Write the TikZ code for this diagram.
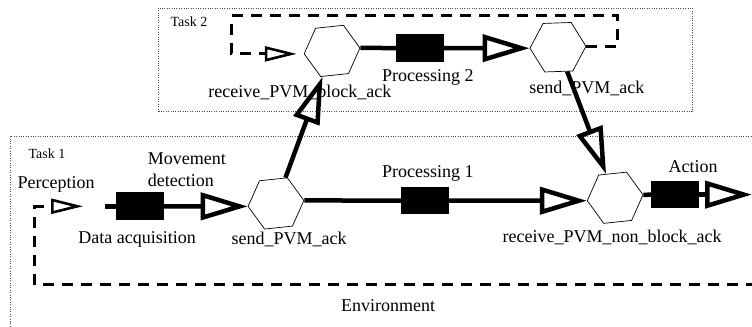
\documentclass[tikz,border=0pt]{standalone}
\usepackage{fontspec}
\setmainfont{Liberation Serif}
\usetikzlibrary{shapes.geometric,arrows.meta}

\begin{document}
\begin{tikzpicture}[
    hexnode/.style={draw, fill=white, regular polygon, regular polygon sides=6, shape border rotate=6, minimum size=1.97cm, inner sep=0pt, line width=0.7pt},
    blockbox/.style={fill=black, minimum width=1.67cm, minimum height=0.97cm, inner sep=0pt},
    flowline/.style={line width=4.5pt},
    bigarrow/.style={flowline, -{Triangle[open, length=47pt, width=27pt]}},
    envline/.style={line width=3pt, dash pattern=on 11pt off 8pt, -{Triangle[open, length=32pt, width=15pt, line width=2.6pt]}},
    taskbox/.style={line width=0.7pt, gray!60!black, dash pattern=on 0.8pt off 1.6pt},
    lbl/.style={inner sep=0pt, font=\fontsize{18}{22}\selectfont},
    tasklbl/.style={inner sep=0pt, font=\fontsize{14}{16}\selectfont}
]

    \useasboundingbox (0,0) rectangle (26.43, 11.49);
    \clip (0,0) rectangle (26.43, 11.49);

    % Task boxes
    \draw[taskbox] (5.55, 7.56) rectangle (24.32, 11.21);
    \draw[taskbox] (0.35, -1) rectangle (27, 6.71);

    \node[tasklbl] (t2lbl) at (6.64, 10.72) {Task 2};
    \node[tasklbl] (t1lbl) at (1.65, 6.08) {Task 1};


    % Task 2
    \node[hexnode] (recvB) at (11.67, 9.70) {};
    \node[hexnode, shape border rotate=2] (sendB) at (19.61, 9.83) {};
    \node[blockbox] (proc2) at (14.76, 9.80) {};

    \coordinate (loopR) at (21.72, 10.93);
    \coordinate (loopL) at (8.15, 10.93);


    % Task 1
    \node[hexnode] (sendA) at (9.70, 4.34) {};
    \node[hexnode] (recvNB) at (21.62, 4.54) {};

    \node[blockbox] (acq) at (4.92, 4.24) {};
    \node[blockbox] (proc1) at (14.94, 4.44) {};
    \node[blockbox] (act) at (23.73, 4.65) {};

    \coordinate (acqin) at (3.69, 4.24);
    \coordinate (actout) at (26.43, 4.65);
    \coordinate (percep) at (2.92, 4.24);
    \coordinate (envR) at (26.6, 1.48);
    \coordinate (envL) at (1.23, 1.48);


    % Labels
    \node[lbl] (recvBlbl) at (10.54, 8.23) {receive\_PVM\_block\_ack};
    \node[lbl] (proc2lbl) at (15.04, 8.75) {Processing 2};
    \node[lbl] (sendBlbl) at (20.63, 8.37) {send\_PVM\_ack};

    \node[lbl, align=left] (movelbl) at (6.57, 5.52) {Movement\\detection};
    \node[lbl] (perceplbl) at (1.97, 4.99) {Perception};
    \node[lbl] (acqlbl) at (4.82, 3.06) {Data acquisition};
    \node[lbl] (sendAlbl) at (10.16, 3.06) {send\_PVM\_ack};
    \node[lbl] (proc1lbl) at (15.04, 5.41) {Processing 1};
    \node[lbl] (recvNBlbl) at (21.51, 3.13) {receive\_PVM\_non\_block\_ack};
    \node[lbl] (actlbl) at (24.36, 5.62) {Action};
    \node[lbl] (envlbl) at (13.64, 0.74) {Environment};


    % Flow in task 2
    \draw[flowline] (recvB.6) -- (proc2);
    \draw[bigarrow] (proc2) -- (sendB.182);
    \draw[envline, shorten >=7pt] (sendB.2) -| (loopR) -- (loopL) |- (recvB.186);

    % Flow in task 1
    \draw[flowline] (acqin) -- (acq);
    \draw[bigarrow] (acq) -- (sendA.186);
    \draw[flowline] (sendA.6) -- (proc1);
    \draw[bigarrow] (proc1) -- (recvNB.186);
    \draw[flowline] (recvNB.6) -- (act);
    \draw[bigarrow] (act) -- (actout);

    % Messages between the tasks
    \draw[bigarrow] (sendA) -- (recvB);
    \draw[bigarrow] (sendB) -- (recvNB);

    % Environment
    \draw[envline] (envR) -- (envL) |- (percep);

\end{tikzpicture}
\end{document}
